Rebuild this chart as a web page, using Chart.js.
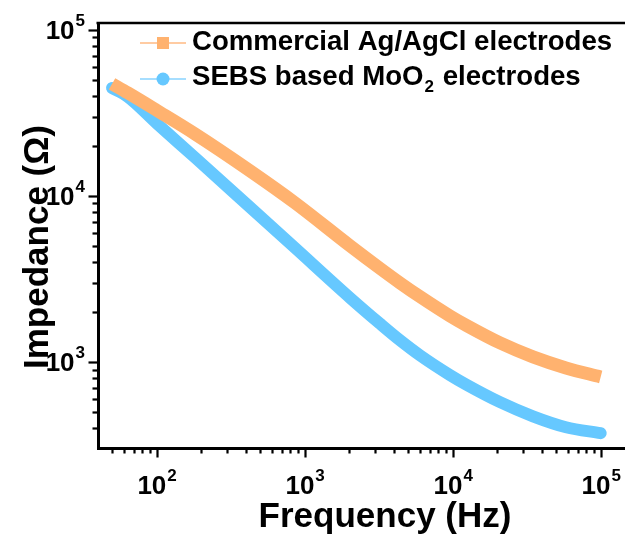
<!DOCTYPE html>
<html>
<head>
<meta charset="utf-8">
<script src="https://cdn.jsdelivr.net/npm/chart.js@4.4.1/dist/chart.umd.min.js"></script>
<style>
  html, body { margin: 0; padding: 0; background: #fff; overflow: hidden; }
  #wrap { position: relative; width: 625px; height: 535px; }
</style>
</head>
<body>
<div id="wrap"><canvas id="impChart" width="625" height="535"></canvas></div>
<script>
// values (Hz, Ohm)
const frequency = [50, 64, 100, 182, 428, 861, 2030, 3230, 4410, 6020, 9600, 12500, 20900, 34900, 58300, 100000];
const commercialZ = [47300, 41700, 32800, 23600, 14150, 9080, 5000, 3660, 2990, 2470, 1890, 1650, 1300, 1072, 920, 812];
const sebsZ = [44700, 39500, 27400, 17000, 8540, 4860, 2430, 1700, 1350, 1095, 833, 726, 572, 470, 404, 372];

const seriesLabels = ["Commercial Ag/AgCl electrodes", "SEBS based MoO₂ electrodes"];
const xMajorTicks = [100, 1000, 10000, 100000];
const yMajorTicks = [1000, 10000, 100000];
const xTitle = "Frequency (Hz)";
const yTitle = "Impedance (Ω)";

const ORANGE = "#FFB26F";
const BLUE = "#66C8FF";
const FONT = "'Liberation Sans', Arial, sans-serif";

function toPoints(ys) {
  return frequency.map((f, i) => ({ x: f, y: ys[i] }));
}

// draws "10" with a raised exponent
function drawPow(ctx, value, x, baseY, align) {
  const exp = String(Math.round(Math.log10(value)));
  ctx.font = "bold 26px " + FONT;
  const wb = ctx.measureText("10").width;
  ctx.font = "bold 17px " + FONT;
  const ws = ctx.measureText(exp).width;
  let x0 = align === "right" ? x - wb - ws : x - (wb + ws) / 2;
  ctx.textAlign = "left";
  ctx.textBaseline = "alphabetic";
  ctx.font = "bold 26px " + FONT;
  ctx.fillText("10", x0, baseY);
  ctx.font = "bold 17px " + FONT;
  ctx.fillText(exp, x0 + wb + 1, baseY - 13);
}

const decorPlugin = {
  id: "decor",
  afterDraw(chart) {
    const ctx = chart.ctx;
    const a = chart.chartArea;
    const xs = chart.scales.x;
    const ys = chart.scales.y;
    ctx.save();
    ctx.strokeStyle = "#000";
    ctx.fillStyle = "#000";
    ctx.lineWidth = 2.5;

    // top frame
    ctx.beginPath();
    ctx.moveTo(a.left - 1.5, a.top);
    ctx.lineTo(a.right, a.top);
    ctx.stroke();

    // log ticks, outward
    ctx.lineWidth = 2.2;
    for (let e = 1; e <= 5; e++) {
      for (let k = 1; k <= 9; k++) {
        const v = k * Math.pow(10, e);
        const len = k === 1 ? 8 : 4;
        if (v >= xs.min && v <= xs.max) {
          const px = Math.round(xs.getPixelForValue(v)) + 0.5;
          ctx.beginPath();
          ctx.moveTo(px, a.bottom);
          ctx.lineTo(px, a.bottom + 1.5 + len);
          ctx.stroke();
        }
        if (v >= ys.min && v <= ys.max) {
          const py = Math.round(ys.getPixelForValue(v)) + 0.5;
          ctx.beginPath();
          ctx.moveTo(a.left, py);
          ctx.lineTo(a.left - 1.5 - len, py);
          ctx.stroke();
        }
      }
    }

    // tick labels
    xMajorTicks.forEach(v => drawPow(ctx, v, xs.getPixelForValue(v), 494, "center"));
    yMajorTicks.forEach(v => drawPow(ctx, v, 84, ys.getPixelForValue(v) + 9, "right"));

    // axis titles
    ctx.font = "bold 35px " + FONT;
    ctx.textAlign = "center";
    ctx.textBaseline = "alphabetic";
    ctx.fillText(xTitle, 385, 527);
    ctx.save();
    ctx.translate(48, 247);
    ctx.rotate(-Math.PI / 2);
    ctx.fillText(yTitle, 0, 0);
    ctx.restore();

    // legend
    const rows = [
      { y: 43, base: 50, color: ORANGE, light: "#FFCBA2", shape: "square" },
      { y: 79, base: 85, color: BLUE, light: "#A6DEFF", shape: "circle" }
    ];
    rows.forEach((r, i) => {
      ctx.strokeStyle = r.light;
      ctx.lineWidth = 2;
      ctx.beginPath();
      ctx.moveTo(140, r.y);
      ctx.lineTo(186, r.y);
      ctx.stroke();
      ctx.fillStyle = r.color;
      if (r.shape === "square") {
        ctx.fillRect(157, r.y - 6, 12, 12);
      } else {
        ctx.beginPath();
        ctx.arc(163, r.y, 6.5, 0, Math.PI * 2);
        ctx.fill();
      }
      ctx.fillStyle = "#000";
      ctx.textAlign = "left";
      ctx.textBaseline = "alphabetic";
      const parts = chart.data.datasets[i].label.split("₂");
      let tx = 192;
      ctx.font = "bold 27.6px " + FONT;
      ctx.fillText(parts[0], tx, r.base);
      if (parts.length > 1) {
        tx += ctx.measureText(parts[0]).width;
        ctx.font = "bold 17px " + FONT;
        ctx.fillText("2", tx + 1, r.base + 7);
        tx += ctx.measureText("2").width + 2;
        ctx.font = "bold 27.6px " + FONT;
        ctx.fillText(parts[1], tx, r.base);
      }
    });
    ctx.restore();
  }
};

new Chart(document.getElementById("impChart"), {
  type: "scatter",
  data: {
    datasets: [
      {
        label: seriesLabels[0],
        data: toPoints(commercialZ),
        showLine: true,
        borderColor: ORANGE,
        borderWidth: 13,
        borderCapStyle: "butt",
        pointRadius: 0,
        cubicInterpolationMode: "monotone"
      },
      {
        label: seriesLabels[1],
        data: toPoints(sebsZ),
        showLine: true,
        borderColor: BLUE,
        borderWidth: 12,
        borderCapStyle: "round",
        pointRadius: 0,
        cubicInterpolationMode: "monotone"
      }
    ]
  },
  options: {
    responsive: false,
    animation: false,
    events: [],
    layout: { padding: { top: 23, right: 0, left: 0, bottom: 0 } },
    plugins: { legend: { display: false }, tooltip: { enabled: false } },
    scales: {
      x: {
        type: "logarithmic",
        min: 40.2,
        max: 146000,
        ticks: { display: false },
        grid: { display: false, drawTicks: false },
        border: { display: true, color: "#000", width: 3 },
        afterFit: s => { s.height = 87; }
      },
      y: {
        type: "logarithmic",
        min: 303,
        max: 110000,
        ticks: { display: false },
        grid: { display: false, drawTicks: false },
        border: { display: true, color: "#000", width: 3 },
        afterFit: s => { s.width = 98; }
      }
    }
  },
  plugins: [decorPlugin]
});
</script>
</body>
</html>
